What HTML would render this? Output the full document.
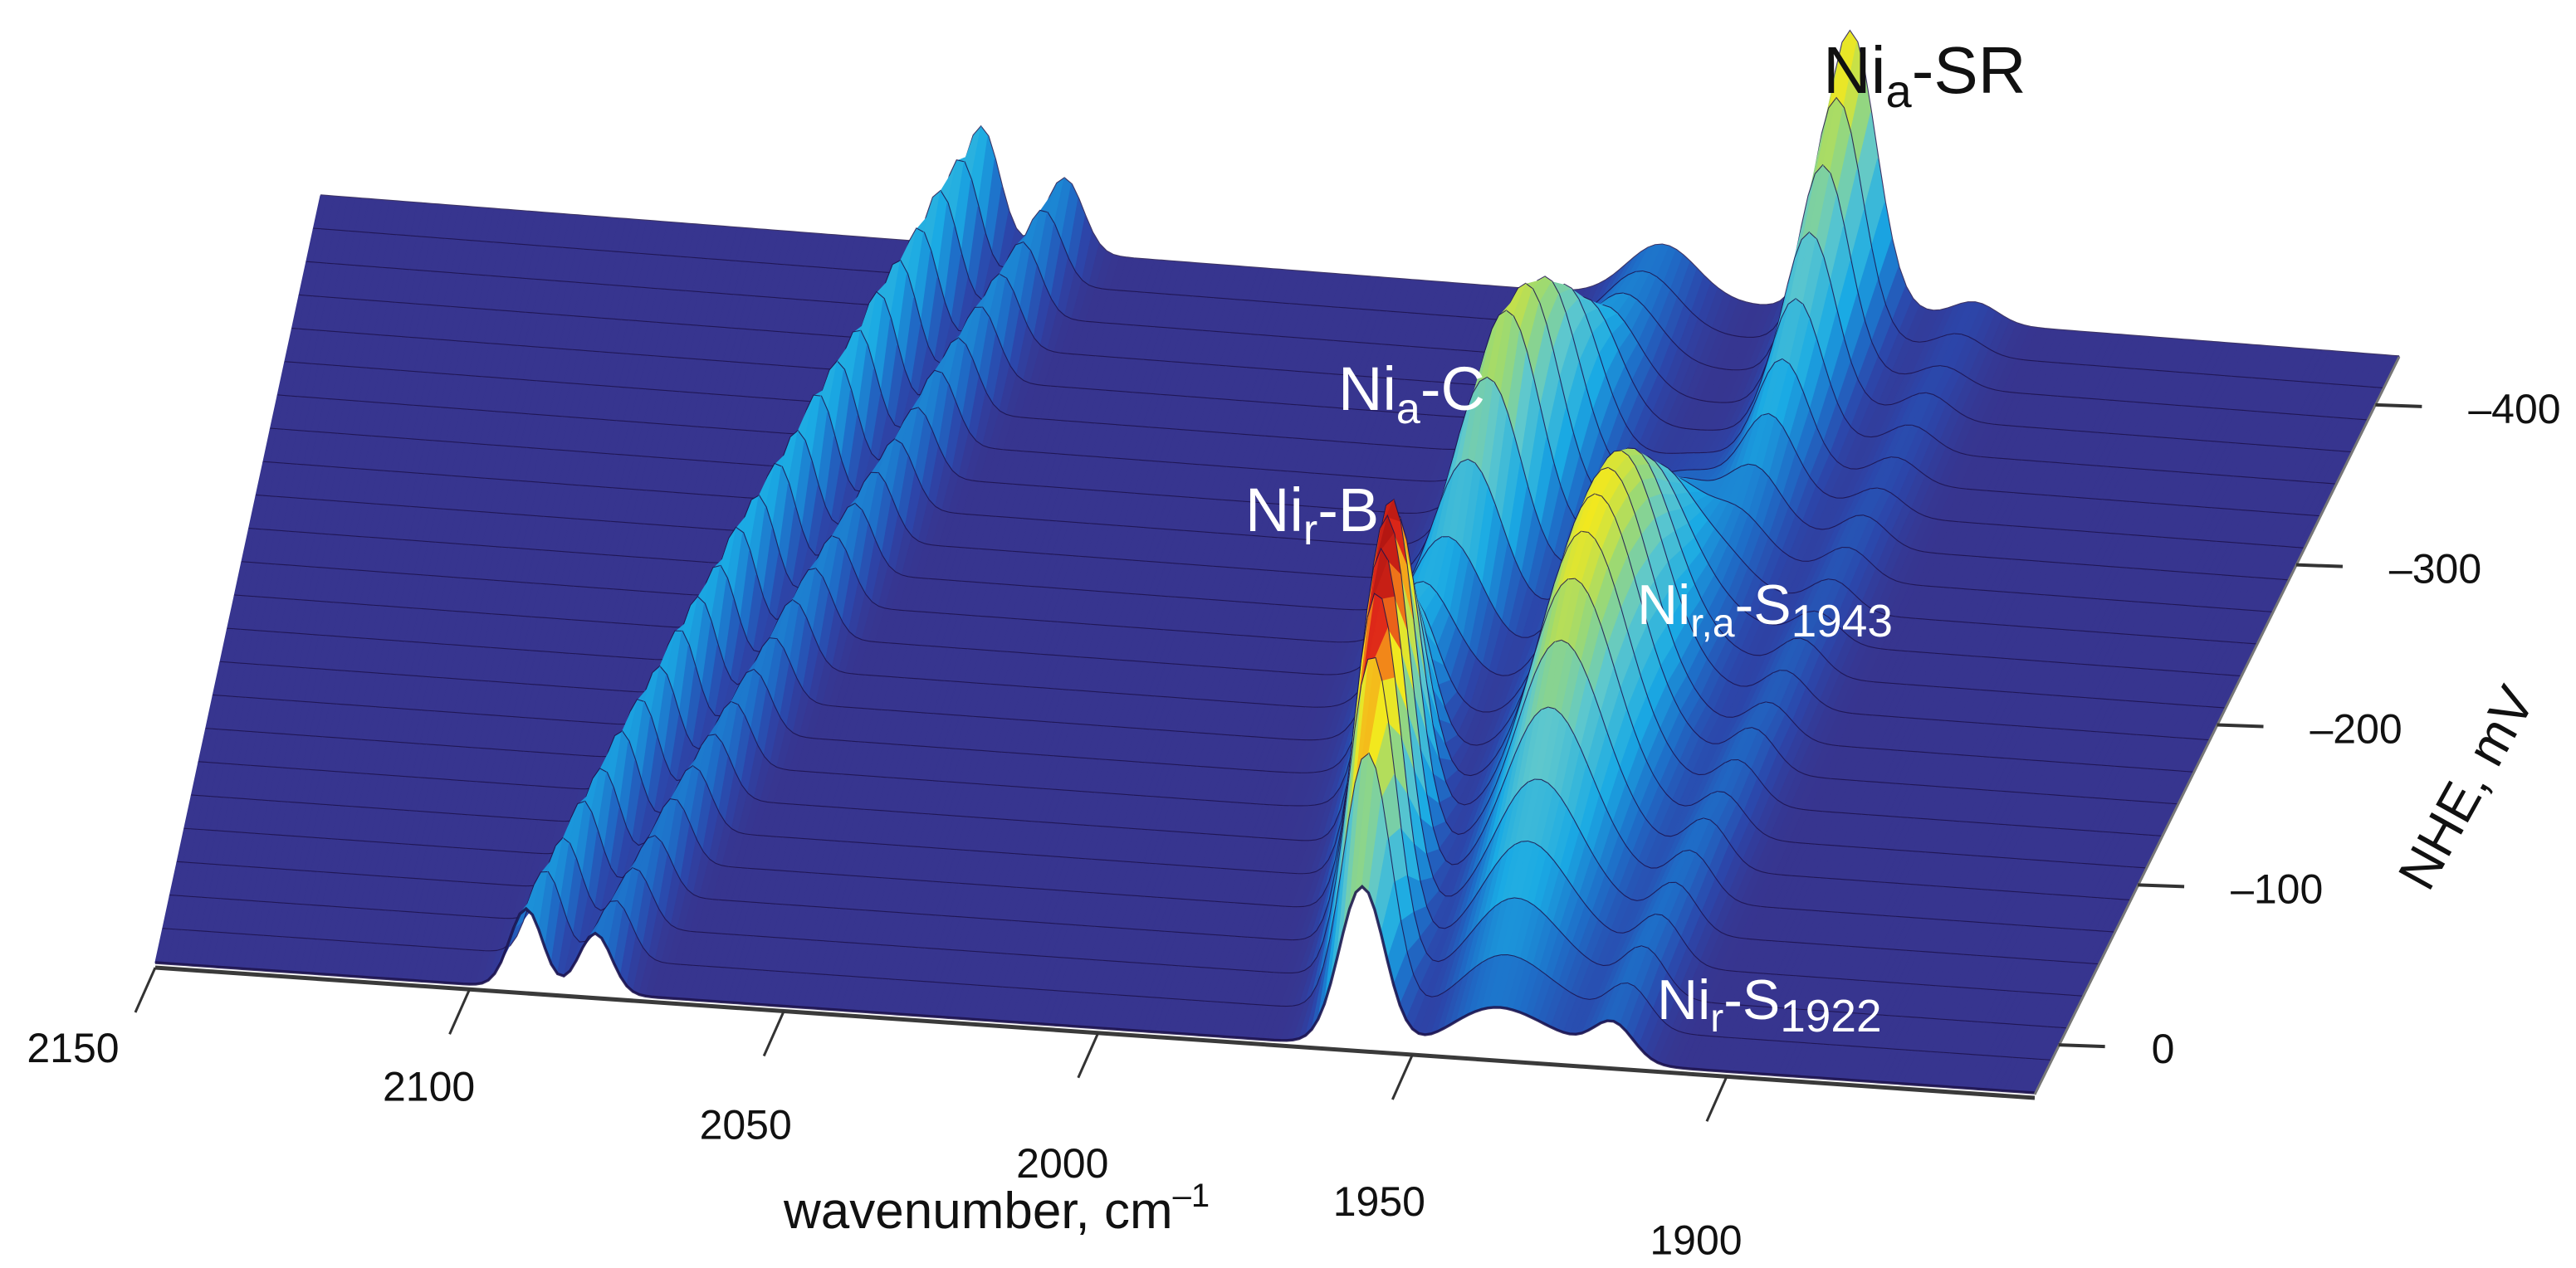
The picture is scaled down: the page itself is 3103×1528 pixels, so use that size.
<!DOCTYPE html>
<html><head><meta charset="utf-8"><style>
html,body{margin:0;padding:0;background:#fff;}
svg{display:block;font-family:"Liberation Sans",Arial,sans-serif;}
</style></head><body>
<svg id="chart" width="3103" height="1528" viewBox="0 0 3103 1528" xmlns="http://www.w3.org/2000/svg">
<g id="surface"></g>
<g id="axes"></g>
<g id="labels">
<text x="2196" y="112" font-size="80" fill="#111">Ni<tspan font-size="56" dy="17">a</tspan><tspan dy="-17">-SR</tspan></text>
<text x="1612" y="494" font-size="74" fill="#fff">Ni<tspan font-size="52" dy="16">a</tspan><tspan dy="-16">-C</tspan></text>
<text x="1500" y="640" font-size="74" fill="#fff">Ni<tspan font-size="52" dy="16">r</tspan><tspan dy="-16">-B</tspan></text>
<text x="1972" y="752" font-size="68" fill="#fff">Ni<tspan font-size="48" dy="15">r,a</tspan><tspan dy="-15">-S</tspan><tspan font-size="55" dy="15">1943</tspan></text>
<text x="1996" y="1228" font-size="68" fill="#fff">Ni<tspan font-size="48" dy="15">r</tspan><tspan dy="-15">-S</tspan><tspan font-size="55" dy="15">1922</tspan></text>
</g>
<text x="944" y="1480" font-size="62" fill="#111">wavenumber, cm<tspan font-size="40" dy="-26">–1</tspan></text>
<text x="0" y="0" font-size="64" fill="#111" text-anchor="middle" transform="translate(2990,960) rotate(-61)">NHE, mV</text>
</svg>
<script>
// ---- data ----
const potentials = [30,10,-10,-30,-50,-70,-90,-110,-130,-150,-170,-190,-210,-230,-250,-270,-290,-310,-330,-350,-370,-390,-410,-430];
const bandNames = ["CN-2091","CN-2080","Nir-B","Nia-C","Nia-SR","Nira-S1943","Nir-S1922","shoulder-1928"];
const bandCenterFront = [2091,2080,1958,1980,1930,1938,1918,1928];
const bandCenterBack  = [2055,2043,1986,1957,1930,1943,1912,1926];
const bandWidth = [2.6,2.6,3.6,5.0,3.6,6.5,3.2,7];
const ampCN2091 = [16,17,17,18,18,19,19,19,20,20,20,21,21,21,21,22,22,22,23,23,23,24,24,24];
const ampCN2080 = [12,12,12,12,13,13,13,13,13,13,14,14,14,14,14,14,14,15,15,15,15,15,15,15];
const ampNirB   = [32,52,65,71,73,73,70,60,45,30,16,7,2,0,0,0,0,0,0,0,0,0,0,0];
const ampNiaC   = [0,0,0,0,0,0,0,1,2,4,8,14,22,32,42,49,48,43,35,26,18,14,12,11];
const ampNiaSR  = [0,0,0,0,0,0,0,0,0,0,0,0,0,1,3,6,10,15,21,27,34,41,48,55];
const ampS1943  = [8,12,17,22,28,36,43,49,52,53,52,49,43,35,27,18,11,6,3,1,0,0,0,0];
const ampS1922  = [7,8,9,9,9,9,9,8,8,8,7,7,7,6,6,6,6,5,5,5,5,4,4,4];
const ampShoulder = [4,4,4,4,4,4,4,4,4,4,3,3,3,3,3,3,3,3,2,2,2,2,2,2];
const bandAmps = [ampCN2091,ampCN2080,ampNirB,ampNiaC,ampNiaSR,ampS1943,ampS1922,ampShoulder];
const xTicks = [2150,2100,2050,2000,1950,1900];
const zTicks = [0,-100,-200,-300,-400];
const zTickLabels = ["0","–100","–200","–300","–400"];
const W_LEFT = 2150, W_RIGHT = 1851, V_FRONT = 30, V_BACK = -430, HMAX = 74;

const NS = "http://www.w3.org/2000/svg";
function proj(w, v, h){
  const s = (V_FRONT - v)/(V_FRONT - V_BACK);
  const t = (W_LEFT - w)/(W_LEFT - W_RIGHT);
  const xL = 187 + 199*s, yL = 1160 - 924*s;
  const xR = 2451 + 439*s, yR = 1317 - 887*s;
  return [xL + t*(xR-xL), yL + t*(yR-yL) - h*6];
}
const stops = [[0,[55,53,143]],[0.06,[44,70,170]],[0.14,[30,110,200]],[0.26,[26,170,228]],[0.45,[95,200,205]],[0.6,[160,218,110]],[0.72,[242,232,30]],[0.81,[245,150,25]],[0.89,[222,40,25]],[1,[160,15,15]]];
function cmap(f){
  f=Math.max(0,Math.min(1,f));
  for(let k=1;k<stops.length;k++){
    if(f<=stops[k][0]){
      const a=stops[k-1],b=stops[k],u=(f-a[0])/(b[0]-a[0]);
      const c=a[1].map((x,i)=>Math.round(x+(b[1][i]-x)*u));
      return "rgb("+c.join(",")+")";
    }
  }
  return "rgb(160,15,15)";
}
const ws=[]; for(let w=W_LEFT; w>=W_RIGHT; w-=1) ws.push(w);
function height(i, w){
  const v=potentials[i], s=(V_FRONT-v)/(V_FRONT-V_BACK);
  let h=0;
  for(let b=0;b<bandNames.length;b++){
    const c=bandCenterFront[b]+(bandCenterBack[b]-bandCenterFront[b])*s;
    const d=(w-c)/bandWidth[b];
    h+=bandAmps[b][i]*Math.exp(-0.5*d*d);
  }
  return h;
}
const H=potentials.map((v,i)=>ws.map(w=>height(i,w)));
const P=potentials.map((v,i)=>ws.map((w,j)=>proj(w,v,H[i][j])));
const surf=document.getElementById("surface");
function rowLine(i){
  const pl=document.createElementNS(NS,"polyline");
  
  
  pl.setAttribute("points",P[i].map(p=>p[0].toFixed(1)+","+p[1].toFixed(1)).join(" "));
  pl.setAttribute("fill","none");
  pl.setAttribute("stroke","rgba(28,18,75,0.85)");
  pl.setAttribute("stroke-width","3.4");
  surf.appendChild(pl);
}
const n=potentials.length;
rowLine(n-1);
for(let i=n-1;i>0;i--){
  const g=document.createElementNS(NS,"g");
  
  
  for(let j=0;j<ws.length-1;j++){
    const a=P[i][j],b=P[i][j+1],c=P[i-1][j+1],d=P[i-1][j];
    const hv=(H[i][j]+H[i][j+1]+H[i-1][j]+H[i-1][j+1])/4;
    const col=cmap(hv/HMAX);
    const pg=document.createElementNS(NS,"polygon");
    pg.setAttribute("points",[a,b,c,d].map(p=>p[0].toFixed(1)+","+p[1].toFixed(1)).join(" "));
    pg.setAttribute("fill",col);
    pg.setAttribute("stroke",col);
    pg.setAttribute("stroke-width","1.2");
    g.appendChild(pg);
  }
  surf.appendChild(g);
  rowLine(i-1);
}
// axes
const ax=document.getElementById("axes");
function line(x1,y1,x2,y2,sw,col,name){
  const l=document.createElementNS(NS,"line");
  
  
  l.setAttribute("x1",x1);l.setAttribute("y1",y1);l.setAttribute("x2",x2);l.setAttribute("y2",y2);
  l.setAttribute("stroke",col);l.setAttribute("stroke-width",sw);
  ax.appendChild(l);
}
function text(x,y,str,anchor,name){
  const t=document.createElementNS(NS,"text");
  
  
  t.setAttribute("x",x);t.setAttribute("y",y);t.setAttribute("font-size","50");
  t.setAttribute("fill","#111");t.setAttribute("text-anchor",anchor);
  t.textContent=str; ax.appendChild(t);
}
const fl=proj(W_LEFT,V_FRONT,0), fr=proj(W_RIGHT,V_FRONT,0), br=proj(W_RIGHT,V_BACK,0);
line(fl[0],fl[1]+6,fr[0],fr[1]+6,5,"#3a3a3a","x-axis-line");
line(fr[0],fr[1]+2,br[0],br[1],3,"#777","z-axis-line");
xTicks.forEach((w,k)=>{
  const p=proj(w,V_FRONT,0);
  line(p[0],p[1]+6,p[0]-24,p[1]+60,3,"#333","x-tick-"+w);
  const dx = k===0 ? -99 : -52+k*3;
  text(p[0]+dx,p[1]+120+k*20,String(w),"middle","x-tick-label-"+w);
});
zTicks.forEach((v,k)=>{
  const p=proj(W_RIGHT,v,0);
  line(p[0],p[1],p[0]+56,p[1]+2,4,"#333","z-tick-"+v);
  text(p[0]+112,p[1]+22,zTickLabels[k],"start","z-tick-label-"+v);
});
</script>
</body></html>
